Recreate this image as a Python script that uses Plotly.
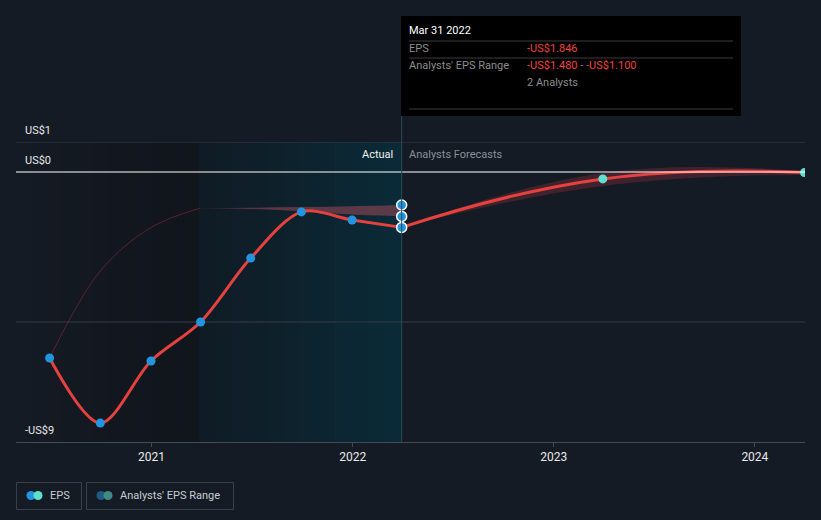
import plotly.graph_objects as go

# ---------------- data ----------------
eps_dates = ["2020-06-30", "2020-09-30", "2020-12-31", "2021-03-31",
             "2021-06-30", "2021-09-30", "2021-12-31", "2022-03-31"]
eps_values = [-6.2, -8.37, -6.3, -5.0, -2.87, -1.33, -1.6, -1.846]

past_est_line_dates = ["2020-06-30", "2020-09-30", "2020-12-31", "2021-03-31"]
past_est_line_values = [-6.2, -3.3, -1.85, -1.2]

past_range_dates = ["2021-03-31", "2021-06-30", "2021-09-30", "2021-12-31", "2022-03-31"]
past_range_high = [-1.2, -1.19, -1.17, -1.14, -1.10]
past_range_low = [-1.2, -1.23, -1.31, -1.42, -1.48]

fc_dates = ["2022-03-31", "2023-03-31", "2024-03-31"]
fc_values = [-1.846, -0.23, -0.02]
fc_high = [-1.846, -0.03, 0.03]
fc_low = [-1.846, -0.47, -0.10]

tooltip_date = "Mar 31 2022"
analysts_count = 2

y_tick_vals = [1, 0, -9]
y_tick_text = ["US$1", "US$0", "-US$9"]
y_grid_vals = [1, -5]
x_tick_vals = ["2021-01-01", "2022-01-01", "2023-01-01", "2024-01-01"]
x_tick_text = ["2021", "2022", "2023", "2024"]

# ---------------- layout helpers ----------------
W, H = 821, 520
ML, MR, MT, MB = 16, 16, 142, 78
PW, PH = W - ML - MR, H - MT - MB
BG = "#151b24"
RED = "#e5423f"
BLUE = "#2394df"
TEAL = "#5fe0cc"
FONT = "Roboto"
FS = 11


def px(xp):
    return (xp - ML) / PW


def py(yp):
    return (H - MB - yp) / PH


fig = go.Figure()

# past analyst estimate line (faint)
fig.add_trace(go.Scatter(x=past_est_line_dates, y=past_est_line_values, mode="lines",
                         line=dict(color="rgba(140,40,52,0.6)", width=1, shape="spline"),
                         hoverinfo="skip", showlegend=False))
# past analyst range band
fig.add_trace(go.Scatter(x=past_range_dates, y=past_range_high, mode="lines",
                         line=dict(color="rgba(0,0,0,0)", width=0, shape="spline"),
                         hoverinfo="skip", showlegend=False))
fig.add_trace(go.Scatter(x=past_range_dates, y=past_range_low, mode="lines",
                         line=dict(color="rgba(0,0,0,0)", width=0, shape="spline"),
                         fill="tonexty", fillcolor="rgba(190,80,95,0.45)",
                         hoverinfo="skip", showlegend=False))
# forecast band
fig.add_trace(go.Scatter(x=fc_dates, y=fc_high, mode="lines",
                         line=dict(color="rgba(0,0,0,0)", width=0, shape="spline", smoothing=1.2),
                         hoverinfo="skip", showlegend=False))
fig.add_trace(go.Scatter(x=fc_dates, y=fc_low, mode="lines",
                         line=dict(color="rgba(0,0,0,0)", width=0, shape="spline", smoothing=1.3),
                         fill="tonexty", fillcolor="rgba(150,50,60,0.35)",
                         hoverinfo="skip", showlegend=False))
# forecast line
fig.add_trace(go.Scatter(x=fc_dates, y=fc_values, mode="lines",
                         line=dict(color=RED, width=3, shape="spline", smoothing=1.3),
                         hoverinfo="skip", showlegend=False))
fig.add_trace(go.Scatter(x=fc_dates[1:], y=fc_values[1:], mode="markers",
                         marker=dict(color=TEAL, size=9),
                         hoverinfo="skip", showlegend=False))
# actual EPS line
fig.add_trace(go.Scatter(x=eps_dates, y=eps_values, mode="lines",
                         line=dict(color=RED, width=3, shape="spline", smoothing=0.9),
                         hoverinfo="skip", showlegend=False))
fig.add_trace(go.Scatter(x=eps_dates[:-1], y=eps_values[:-1], mode="markers",
                         marker=dict(color=BLUE, size=9),
                         hoverinfo="skip", showlegend=False))
# highlighted points at tooltip date
fig.add_trace(go.Scatter(x=[eps_dates[-1]] * 3,
                         y=[eps_values[-1], past_range_low[-1], past_range_high[-1]],
                         mode="markers",
                         marker=dict(color=BLUE, size=10, line=dict(color="white", width=1.5)),
                         hoverinfo="skip", showlegend=False))

shapes = []
# left darker region (gradient)
n = 12
x0p, x1p = ML, 199
for i in range(n):
    a = x0p + (x1p - x0p) * i / n
    b = x0p + (x1p - x0p) * (i + 1) / n
    t = i / (n - 1)
    r = int(0x15 + (0x11 - 0x15) * t)
    g = int(0x1b + (0x15 - 0x1b) * t)
    bb = int(0x24 + (0x1c - 0x24) * t)
    shapes.append(dict(type="rect", xref="paper", yref="paper", x0=px(a), x1=px(b) + 0.001,
                       y0=0, y1=1, fillcolor=f"rgb({r},{g},{bb})", line=dict(width=0), layer="below"))
# actual (teal) region gradient
x0p, x1p = 199, 401
for i in range(n):
    a = x0p + (x1p - x0p) * i / n
    b = x0p + (x1p - x0p) * (i + 1) / n
    t = i / (n - 1)
    r = int(0x10 + (0x0b - 0x10) * t)
    g = int(0x1c + (0x2a - 0x1c) * t)
    bb = int(0x25 + (0x37 - 0x25) * t)
    shapes.append(dict(type="rect", xref="paper", yref="paper", x0=px(a), x1=px(b) + 0.001,
                       y0=0, y1=1, fillcolor=f"rgb({r},{g},{bb})", line=dict(width=0), layer="below"))
# grid lines
for v in y_grid_vals:
    shapes.append(dict(type="line", xref="paper", yref="y", x0=0, x1=1, y0=v, y1=v,
                       line=dict(color="#363d47", width=1), layer="below"))
# zero line
shapes.append(dict(type="line", xref="paper", yref="y", x0=0, x1=1, y0=0, y1=0,
                   line=dict(color="#ffffff", width=1), layer="above"))
# vertical divider at tooltip date
shapes.append(dict(type="line", xref="x", yref="paper", x0=eps_dates[-1], x1=eps_dates[-1],
                   y0=0, y1=py(116), line=dict(color="#2b4a56", width=1)))
# tooltip box
shapes.append(dict(type="rect", xref="paper", yref="paper", x0=px(401), x1=px(741),
                   y0=py(116), y1=py(16), fillcolor="#000000", line=dict(width=0)))
for yl in (41, 58, 109):
    shapes.append(dict(type="line", xref="paper", yref="paper", x0=px(409), x1=px(733),
                       y0=py(yl), y1=py(yl), line=dict(color="#3c3c3c", width=1)))
# legend boxes
shapes.append(dict(type="rect", xref="paper", yref="paper", x0=px(16.5), x1=px(81.5),
                   y0=py(509.5), y1=py(482.5), line=dict(color="#3b414b", width=1), fillcolor=BG))
shapes.append(dict(type="rect", xref="paper", yref="paper", x0=px(86.5), x1=px(233.5),
                   y0=py(509.5), y1=py(482.5), line=dict(color="#3b414b", width=1), fillcolor=BG))
# legend swatches (two overlapping circles)
for cx, c1, c2 in ((31, BLUE, TEAL), (101, "#1f5a85", "#3f8a82")):
    for dx, col in ((0, c1), (7, c2)):
        shapes.append(dict(type="circle", xref="paper", yref="paper",
                           x0=px(cx + dx - 4.5), x1=px(cx + dx + 4.5),
                           y0=py(500), y1=py(491), fillcolor=col, line=dict(width=0)))


def txt(xp, yp, text, color, anchor="left", size=FS):
    sx = -2 if anchor == "left" else 2
    return dict(x=px(xp), y=py(yp), xref="paper", yref="paper", text=text, showarrow=False,
                xanchor=anchor, yanchor="middle", xshift=sx,
                font=dict(family=FONT, size=size, color=color))


annotations = []
for v, t in zip(y_tick_vals, y_tick_text):
    annotations.append(dict(x=px(25), y=v, xref="paper", yref="y", text=t, showarrow=False,
                            xanchor="left", yanchor="bottom", yshift=3, xshift=-2,
                            font=dict(family=FONT, size=FS, color="#e8e8e8")))
annotations.append(txt(393, 154, "Actual", "#f0f0f0", anchor="right"))
annotations.append(txt(409, 154, "Analysts Forecasts", "#8a8f96"))
# tooltip text
annotations.append(txt(409, 31, tooltip_date, "#ffffff"))
annotations.append(txt(409, 49, "EPS", "#8c8c8c"))
annotations.append(txt(527, 49, f"-US${abs(eps_values[-1]):.3f}", "#f0403c"))
annotations.append(txt(409, 66, "Analysts' EPS Range", "#8c8c8c"))
annotations.append(txt(527, 66,
                       (f"<span style='color:#f0403c'>-US${abs(past_range_low[-1]):.3f}</span>"
                        f"<span style='color:#8c8c8c'> - </span>"
                        f"<span style='color:#f0403c'>-US${abs(past_range_high[-1]):.3f}</span>"),
                       "#f0403c"))
annotations.append(txt(527, 83, f"{analysts_count} Analysts", "#8c8c8c"))
# legend text
annotations.append(txt(50, 495.5, "EPS", "#c8ccd2"))
annotations.append(txt(120, 495.5, "Analysts' EPS Range", "#c8ccd2"))

fig.update_layout(
    width=W, height=H,
    margin=dict(l=ML, r=MR, t=MT, b=MB),
    paper_bgcolor=BG, plot_bgcolor=BG,
    showlegend=False,
    shapes=shapes, annotations=annotations,
    font=dict(family=FONT, size=12, color="#e0e0e0"),
    xaxis=dict(type="date", range=["2020-04-30", "2024-04-01"],
               tickvals=x_tick_vals, ticktext=x_tick_text,
               showgrid=False, zeroline=False,
               showline=True, linecolor="#444b55", linewidth=1,
               ticks="outside", ticklen=4, tickcolor="#444b55",
               tickfont=dict(family=FONT, size=12, color="#e8e8e8")),
    yaxis=dict(range=[-9, 1], showgrid=False, zeroline=False, showticklabels=False,
               showline=False),
)

fig.write_html("out.html")
